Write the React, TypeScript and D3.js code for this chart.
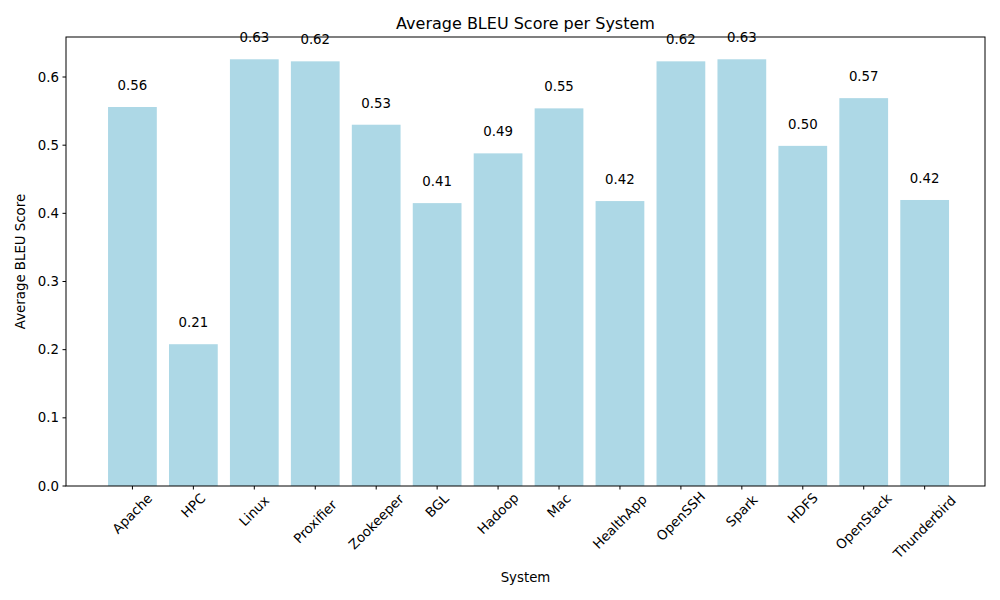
import * as d3 from "d3";

const systems = ["Apache", "HPC", "Linux", "Proxifier", "Zookeeper", "BGL", "Hadoop", "Mac", "HealthApp", "OpenSSH", "Spark", "HDFS", "OpenStack", "Thunderbird"];
const scores = [0.556, 0.208, 0.626, 0.623, 0.53, 0.415, 0.488, 0.554, 0.418, 0.623, 0.626, 0.499, 0.569, 0.4196];
const yTicks = [0, 0.1, 0.2, 0.3, 0.4, 0.5, 0.6];

const W = 1000;
const H = 600;
const m = { left: 66, right: 985, top: 37, bottom: 486 };
const font = "DejaVu Sans, sans-serif";

export default function App() {
  const x = d3.scaleLinear().domain([-1.09, 13.99]).range([m.left, m.right]);
  const y = d3.scaleLinear().domain([0, 0.6587]).range([m.bottom, m.top]);
  const bw = x(0.8) - x(0);

  return (
    <svg width={W} height={H} style={{ position: "absolute", left: 0, top: 0, background: "#fff" }} fontFamily={font}>
      {systems.map((s, i) => (
        <g key={s}>
          <rect x={x(i) - bw / 2} y={y(scores[i])} width={bw} height={y(0) - y(scores[i])} fill="#add8e6" />
          <text x={x(i)} y={y(scores[i] + 0.02)} textAnchor="middle" fontSize={13.33} dy="-0.25em">
            {scores[i].toFixed(2)}
          </text>
        </g>
      ))}
      <rect x={m.left} y={m.top} width={m.right - m.left} height={m.bottom - m.top} fill="none" stroke="#000" strokeWidth={1} />
      {yTicks.map((t) => (
        <g key={t}>
          <line x1={m.left - 3.5} x2={m.left} y1={y(t)} y2={y(t)} stroke="#000" />
          <text x={m.left - 7} y={y(t)} textAnchor="end" dominantBaseline="central" fontSize={13.33}>
            {t.toFixed(1)}
          </text>
        </g>
      ))}
      {systems.map((s, i) => {
        const len = s.length * 7.6;
        const half = ((len + 13) * Math.SQRT1_2) / 2;
        const cy = m.bottom + 7 + half;
        return (
          <g key={s}>
            <line x1={x(i)} x2={x(i)} y1={m.bottom} y2={m.bottom + 3.5} stroke="#000" />
            <text
              x={x(i)}
              y={cy}
              textAnchor="middle"
              dominantBaseline="central"
              fontSize={13.33}
              transform={`rotate(-45 ${x(i)} ${cy})`}
            >
              {s}
            </text>
          </g>
        );
      })}
      <text x={(m.left + m.right) / 2} y={29} textAnchor="middle" fontSize={16}>
        Average BLEU Score per System
      </text>
      <text x={(m.left + m.right) / 2} y={582} textAnchor="middle" fontSize={13.33}>
        System
      </text>
      <text transform={`translate(25 ${(m.top + m.bottom) / 2}) rotate(-90)`} textAnchor="middle" fontSize={13.33}>
        Average BLEU Score
      </text>
    </svg>
  );
}
